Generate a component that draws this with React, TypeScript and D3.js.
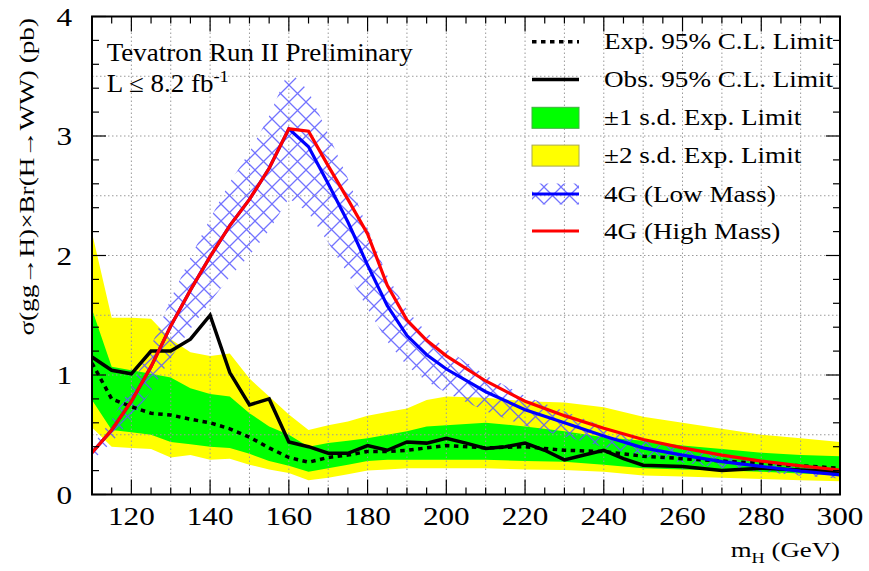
import React from "react";
import * as d3 from "d3";

// ---------- data ----------
const bandMass = [110,115,120,125,130,135,140,145,150,155,160,165,170,175,180,185,190,195,200,210,220,230,240,250,260,270,280,290,300];
const yellowUp = [2.19,1.48,1.48,1.47,1.30,1.19,1.16,1.18,0.97,0.82,0.67,0.54,0.58,0.61,0.66,0.69,0.72,0.79,0.82,0.81,0.78,0.77,0.73,0.65,0.60,0.55,0.50,0.47,0.44];
const greenUp = [1.55,1.07,1.04,1.01,0.98,0.89,0.84,0.82,0.68,0.57,0.50,0.40,0.43,0.45,0.47,0.50,0.53,0.57,0.58,0.60,0.57,0.53,0.48,0.45,0.41,0.38,0.35,0.33,0.32];
const greenLo = [0.79,0.54,0.52,0.50,0.44,0.42,0.40,0.39,0.34,0.28,0.24,0.19,0.22,0.25,0.28,0.29,0.29,0.29,0.29,0.29,0.28,0.275,0.25,0.22,0.21,0.20,0.19,0.175,0.163];
const yellowLo = [0.56,0.40,0.39,0.38,0.31,0.33,0.29,0.30,0.25,0.21,0.18,0.12,0.14,0.17,0.20,0.21,0.22,0.22,0.22,0.22,0.21,0.205,0.19,0.16,0.15,0.14,0.13,0.12,0.11];
const expected = [1.10,0.80,0.735,0.68,0.665,0.63,0.60,0.55,0.48,0.39,0.31,0.27,0.31,0.33,0.36,0.36,0.37,0.39,0.41,0.39,0.40,0.37,0.36,0.32,0.30,0.28,0.26,0.24,0.22];

const obsMass = [110,115,120,125,130,135,140,145,150,155,160,165,170,175,180,185,190,195,200,205,210,215,220,225,230,235,240,245,250,260,270,280,290,300];
const observed = [1.15,1.04,1.01,1.20,1.20,1.30,1.50,1.02,0.75,0.80,0.44,0.40,0.345,0.345,0.41,0.37,0.44,0.43,0.47,0.43,0.385,0.40,0.43,0.37,0.29,0.33,0.37,0.30,0.245,0.235,0.20,0.22,0.205,0.19];

const lowMass4G = [0.35,0.54,0.78,1.07,1.41,1.71,1.99,2.25,2.47,2.73,3.06,2.91,2.60,2.28,1.92,1.58,1.33,1.17,1.05,0.86,0.71,0.60,0.49,0.39,0.33,0.275,0.235,0.195,0.165];
const highMass4G = [0.35,0.54,0.78,1.07,1.41,1.71,1.99,2.25,2.47,2.73,3.06,3.04,2.75,2.47,2.18,1.75,1.46,1.29,1.16,0.95,0.78,0.66,0.555,0.46,0.39,0.33,0.28,0.24,0.205];
const lowMassBandUp = 1.16;
const lowMassBandLo = 0.81;

const xTickLabels = [120,140,160,180,200,220,240,260,280,300];
const yTickLabels = [0,1,2,3,4];
const legendLabels = [
  "Exp. 95% C.L. Limit",
  "Obs. 95% C.L. Limit",
  "\u00b11 s.d. Exp. Limit",
  "\u00b12 s.d. Exp. Limit",
  "4G (Low Mass)",
  "4G (High Mass)",
];

// ---------- layout ----------
const W = 869, H = 571;
const L = 92, R = 840, T = 16.5, B = 494.5;
const FONT = "'Liberation Serif', 'Times New Roman', Times, serif";

const x = d3.scaleLinear().domain([110, 300]).range([L, R]);
const y = d3.scaleLinear().domain([0, 4]).range([B, T]);

function SText({ x: tx, y: ty, sx = 1, anchor = "start", size, rotate = 0, children }: any) {
  return (
    <g transform={`translate(${tx},${ty}) rotate(${rotate}) scale(${sx},1)`}>
      <text textAnchor={anchor} fontSize={size} fontFamily={FONT} fill="#000">
        {children}
      </text>
    </g>
  );
}

export default function App() {
  const area = (lo: number[], hi: number[]) =>
    d3.area<number>()
      .x((_, i) => x(bandMass[i]))
      .y0((_, i) => y(lo[i]))
      .y1((_, i) => y(hi[i]))(bandMass) as string;
  const line = (ms: number[], vs: number[]) =>
    d3.line<number>().x((m) => x(m)).y((_, i) => y(vs[i]))(ms) as string;

  const hatchLo = lowMass4G.map((v) => v * lowMassBandLo);
  const hatchHi = lowMass4G.map((v) => v * lowMassBandUp);

  const xMinor = d3.range(110, 300.1, 5);
  const xGrid = d3.range(120, 300, 10);
  const yMinor = d3.range(0, 4.001, 0.2);
  const yGrid = d3.range(0.5, 4, 0.5);

  const gridStyle = { stroke: "#9a9a9a", strokeWidth: 1, strokeDasharray: "1.5 2.5" };

  const legX0 = 532, legX1 = 579, legText = 604;
  const legRows = [41.7, 79.6, 117.8, 155.6, 194, 231];
  const hs = 17;

  return (
    <svg width={W} height={H} style={{ position: "absolute", left: 0, top: 0, background: "#fff" }}>
      <defs>
        <clipPath id="plotclip">
          <rect x={L} y={T} width={R - L} height={B - T} />
        </clipPath>
        <pattern id="hatch" patternUnits="userSpaceOnUse" width={hs} height={hs}>
          <path d={`M-1,-1 L${hs + 1},${hs + 1} M${hs + 1},-1 L-1,${hs + 1}`} stroke="#5a5aff" strokeWidth={1.3} strokeOpacity={0.85} fill="none" />
        </pattern>
      </defs>

      <g clipPath="url(#plotclip)">
        <path d={area(yellowLo, yellowUp)} fill="#ffff00" />
        <path d={area(greenLo, greenUp)} fill="#00ff00" />
        {xGrid.map((m) => (
          <line key={"gx" + m} x1={x(m)} x2={x(m)} y1={T} y2={B} {...gridStyle} />
        ))}
        {yGrid.map((v) => (
          <line key={"gy" + v} x1={L} x2={R} y1={y(v)} y2={y(v)} {...gridStyle} />
        ))}
        <path d={area(hatchLo, hatchHi)} fill="url(#hatch)" />
        <path d={line(bandMass, expected)} fill="none" stroke="#000" strokeWidth={3.5} strokeDasharray="4.5 4.5" />
        <path d={line(obsMass, observed)} fill="none" stroke="#000" strokeWidth={3.5} strokeLinejoin="miter" />
        <path d={line(bandMass, lowMass4G)} fill="none" stroke="#0000ff" strokeWidth={3.2} />
        <path d={line(bandMass, highMass4G)} fill="none" stroke="#ff0000" strokeWidth={3.2} />
      </g>

      {/* frame */}
      <rect x={L} y={T} width={R - L} height={B - T} fill="none" stroke="#000" strokeWidth={2} />

      {/* x ticks bottom & top */}
      {xMinor.map((m) => {
        const major = m % 20 === 0;
        const len = major ? 15 : 7;
        return (
          <g key={"xt" + m}>
            <line x1={x(m)} x2={x(m)} y1={B} y2={B - len} stroke="#000" strokeWidth={1.2} />
            <line x1={x(m)} x2={x(m)} y1={T} y2={T + len} stroke="#000" strokeWidth={1.2} />
          </g>
        );
      })}
      {/* y ticks left & right */}
      {yMinor.map((v, i) => {
        const major = i % 5 === 0;
        const len = major ? 14 : 7;
        return (
          <g key={"yt" + i}>
            <line x1={L} x2={L + len} y1={y(v)} y2={y(v)} stroke="#000" strokeWidth={1.2} />
            <line x1={R} x2={R - len} y1={y(v)} y2={y(v)} stroke="#000" strokeWidth={1.2} />
          </g>
        );
      })}

      {/* tick labels */}
      {xTickLabels.map((m) => (
        <SText key={"xl" + m} x={x(m)} y={525} sx={1.2} anchor="middle" size={26}>
          {m}
        </SText>
      ))}
      {yTickLabels.map((v) => (
        <SText key={"yl" + v} x={72} y={y(v) + 9} sx={1.2} anchor="end" size={26}>
          {v}
        </SText>
      ))}

      {/* axis titles */}
      <SText x={840} y={557} sx={1.22} anchor="end" size={22}>
        m<tspan fontSize={15} dy={6}>H</tspan>
        <tspan dy={-6}> (GeV)</tspan>
      </SText>
      <SText x={34} y={18} sx={1.36} anchor="end" size={20} rotate={-90}>
        {"\u03c3(gg\u2192H)\u00d7Br(H\u2192WW) (pb)"}
      </SText>

      {/* top-left label */}
      <SText x={106.7} y={61} sx={1.08} anchor="start" size={25}>
        Tevatron Run II Preliminary
      </SText>
      <SText x={106.7} y={92} sx={1.08} anchor="start" size={25}>
        {"L \u2264 8.2 fb"}
        <tspan fontSize={17} dy={-10}>-1</tspan>
      </SText>

      {/* legend */}
      <line x1={legX0} x2={legX1} y1={legRows[0]} y2={legRows[0]} stroke="#000" strokeWidth={3.5} strokeDasharray="4.5 4.5" />
      <line x1={legX0} x2={legX1} y1={legRows[1]} y2={legRows[1]} stroke="#000" strokeWidth={3.5} />
      <rect x={legX0} y={legRows[2] - 10.5} width={legX1 - legX0} height={21} fill="#00ff00" stroke="#40b040" strokeWidth={1} />
      <rect x={legX0} y={legRows[3] - 10.5} width={legX1 - legX0} height={21} fill="#ffff00" stroke="#a8a850" strokeWidth={1} />
      <rect x={legX0} y={legRows[4] - 10.5} width={legX1 - legX0} height={21} fill="url(#hatch)" />
      <line x1={legX0} x2={legX1} y1={legRows[4]} y2={legRows[4]} stroke="#0000ff" strokeWidth={3.2} />
      <line x1={legX0} x2={legX1} y1={legRows[5]} y2={legRows[5]} stroke="#ff0000" strokeWidth={3.2} />
      {legendLabels.map((t, i) => (
        <SText key={"lg" + i} x={legText} y={legRows[i] + 7.6} sx={1.18} anchor="start" size={23}>
          {t}
        </SText>
      ))}
    </svg>
  );
}
